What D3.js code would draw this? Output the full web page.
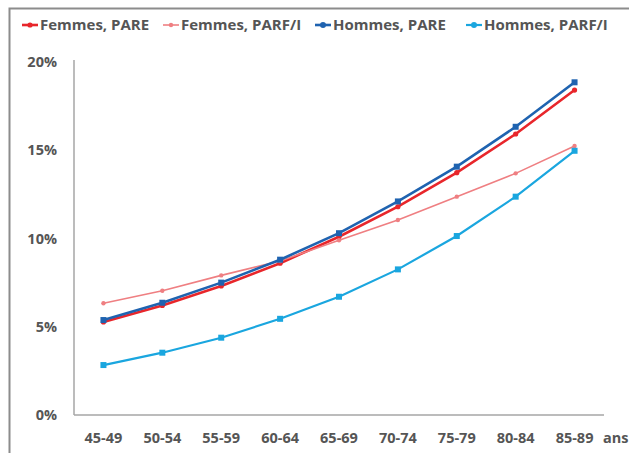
<!DOCTYPE html>
<html>
<head>
<meta charset="utf-8">
<script src="https://cdn.jsdelivr.net/npm/d3@7"></script>
<style>
  body { margin: 0; background: #fff; }
  svg text { font-family: "Open Sans", sans-serif; font-weight: 700; fill: #555; }
</style>
</head>
<body>
<div class="chart"></div>
<script>
var width = 629;
var height = 453;

// tranches d'age
var ages = ["45-49", "50-54", "55-59", "60-64", "65-69", "70-74", "75-79", "80-84", "85-89"];
var yTicks = [0, 0.05, 0.10, 0.15, 0.20];

var femmesPARE   = [0.0527, 0.0621, 0.0731, 0.0860, 0.1010, 0.1180, 0.1373, 0.1592, 0.1841];
var femmesPARF   = [0.0633, 0.0704, 0.0791, 0.0872, 0.0990, 0.1105, 0.1237, 0.1369, 0.1524];
var hommesPARE   = [0.0538, 0.0636, 0.0750, 0.0880, 0.1030, 0.1210, 0.1407, 0.1633, 0.1885];
var hommesPARF   = [0.0283, 0.0353, 0.0438, 0.0545, 0.0670, 0.0825, 0.1014, 0.1237, 0.1497];

var series = [
  {name: "Femmes, PARE",   values: femmesPARE, color: "#e8262b", w: 2.6, shape: "circle", r: 2.6},
  {name: "Femmes, PARF/I", values: femmesPARF, color: "#ef7f82", w: 1.6, shape: "circle", r: 2.2},
  {name: "Hommes, PARE",   values: hommesPARE, color: "#1f63b0", w: 2.6, shape: "square", r: 3},
  {name: "Hommes, PARF/I", values: hommesPARF, color: "#1aa6df", w: 2.2, shape: "square", r: 3}
];

var svg = d3.select(".chart").append("svg")
    .attr("width", width)
    .attr("height", height);

// cadre
svg.append("path")
    .attr("d", "M9.5," + height + "V8.5H" + width)
    .attr("fill", "none")
    .attr("stroke", "#8c8c8c")
    .attr("stroke-width", 2);

var x = d3.scalePoint()
    .domain(ages)
    .range([74, 604])
    .padding(0.5);

var y = d3.scaleLinear()
    .domain([0, 0.20])
    .range([415, 62]);

// axes
svg.append("line")
    .attr("x1", 74).attr("x2", 74)
    .attr("y1", 60).attr("y2", 415)
    .attr("stroke", "#a6a6a6").attr("stroke-width", 1.5);
svg.append("line")
    .attr("x1", 74).attr("x2", 604)
    .attr("y1", 415).attr("y2", 415)
    .attr("stroke", "#a6a6a6").attr("stroke-width", 1.5);

svg.append("g").selectAll("text")
    .data(yTicks)
    .enter().append("text")
    .attr("x", 57)
    .attr("y", function(d) { return y(d); })
    .attr("dy", "0.35em")
    .attr("text-anchor", "end")
    .attr("font-size", 14.5)
    .text(d3.format(".0%"));

svg.append("g").selectAll("text")
    .data(ages)
    .enter().append("text")
    .attr("x", function(d) { return x(d); })
    .attr("y", 438)
    .attr("dy", "0.35em")
    .attr("text-anchor", "middle")
    .attr("font-size", 14.5)
    .text(function(d) { return d; });

svg.append("text")
    .attr("x", 603)
    .attr("y", 438)
    .attr("dy", "0.35em")
    .attr("font-size", 14.5)
    .text("ans");

var line = d3.line()
    .x(function(d, i) { return x(ages[i]); })
    .y(function(d) { return y(d); });

var g = svg.append("g").selectAll("g")
    .data(series)
    .enter().append("g");

g.append("path")
    .attr("d", function(d) { return line(d.values); })
    .attr("fill", "none")
    .attr("stroke", function(d) { return d.color; })
    .attr("stroke-width", function(d) { return d.w; });

g.each(function(s) {
  var sel = d3.select(this).selectAll(".pt")
      .data(s.values)
      .enter();
  if (s.shape == "circle") {
    sel.append("circle")
      .attr("cx", function(d, i) { return x(ages[i]); })
      .attr("cy", function(d) { return y(d); })
      .attr("r", s.r)
      .attr("fill", s.color);
  } else {
    sel.append("rect")
      .attr("x", function(d, i) { return x(ages[i]) - s.r; })
      .attr("y", function(d) { return y(d) - s.r; })
      .attr("width", s.r * 2)
      .attr("height", s.r * 2)
      .attr("fill", s.color);
  }
});

// legende
var legendX = [22, 163, 315, 466];
var lg = svg.append("g").selectAll("g")
    .data(series)
    .enter().append("g")
    .attr("transform", function(d, i) { return "translate(" + legendX[i] + ",25)"; });

lg.append("line")
    .attr("x1", 0).attr("x2", 16)
    .attr("stroke", function(d) { return d.color; })
    .attr("stroke-width", function(d) { return d.w; });
lg.append("circle")
    .attr("cx", 8)
    .attr("r", function(d) { return d.r; })
    .attr("fill", function(d) { return d.color; });
lg.append("text")
    .attr("x", 18)
    .attr("dy", "0.35em")
    .attr("font-size", 15)
    .text(function(d) { return d.name; });
</script>
</body>
</html>
